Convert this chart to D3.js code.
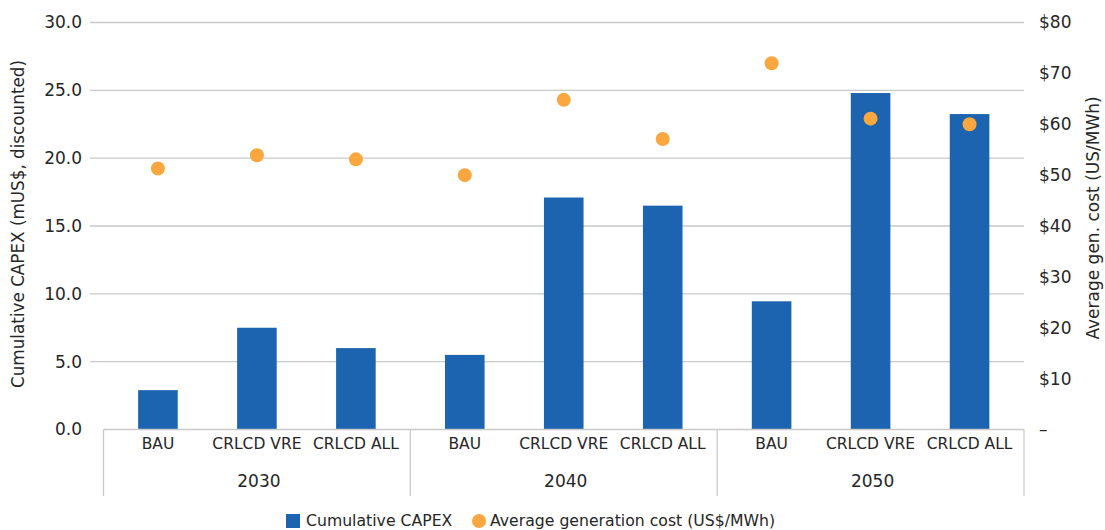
<!DOCTYPE html>
<html>
<head>
<meta charset="utf-8">
<script src="https://cdn.jsdelivr.net/npm/d3@7"></script>
<style>
  html, body { margin: 0; padding: 0; background: #fff; }
  svg { display: block; font-family: "DejaVu Sans", sans-serif; }
</style>
</head>
<body>
<svg id="chart" width="1105" height="530"></svg>
<script>
// ---- data ----
const years = ["2030", "2040", "2050"];
const scenarios = ["BAU", "CRLCD VRE", "CRLCD ALL"];
// Cumulative CAPEX (mUS$, discounted), per year, per scenario
const capex2030 = [2.9, 7.5, 6.0];
const capex2040 = [5.5, 17.1, 16.5];
const capex2050 = [9.45, 24.8, 23.25];
// Average generation cost (US$/MWh)
const cost2030 = [51.3, 53.9, 53.1];
const cost2040 = [50.0, 64.8, 57.1];
const cost2050 = [72.0, 61.1, 60.0];
const leftTicks = [0, 5, 10, 15, 20, 25, 30];
const rightTicks = [0, 10, 20, 30, 40, 50, 60, 70, 80];
const seriesNames = ["Cumulative CAPEX", "Average generation cost (US$/MWh)"];
const leftTitle = "Cumulative CAPEX (mUS$, discounted)";
const rightTitle = "Average gen. cost (US/MWh)";

const capexByYear = [capex2030, capex2040, capex2050];
const costByYear = [cost2030, cost2040, cost2050];
const rows = [];
years.forEach((y, i) => scenarios.forEach((s, j) => rows.push({
  year: y, scen: s, capex: capexByYear[i][j], cost: costByYear[i][j]
})));

// ---- layout ----
const L = 103.5, R = 1024, T = 22.5, B = 429.5;
const blue = "#1c64af", orange = "#f9a73e", grid = "#c9c9c9", txt = "#262626";
const FONT = "DejaVu Sans, sans-serif";
const svg = d3.select("#chart");

const x0 = d3.scaleBand().domain(years).range([L, R]).padding(0);
const x1 = d3.scaleBand().domain(scenarios).range([0, x0.bandwidth()])
  .paddingInner(0.6).paddingOuter(0.35);
const yL = d3.scaleLinear().domain([0, 30]).range([B, T]);
const yR = d3.scaleLinear().domain([0, 80]).range([B, T]);

// gridlines
svg.append("g").selectAll("line").data(leftTicks.filter(d => d > 0)).join("line")
  .attr("x1", 90).attr("x2", R).attr("y1", d => yL(d)).attr("y2", d => yL(d))
  .attr("stroke", grid).attr("stroke-width", 1.3);

// left axis
const axL = svg.append("g").attr("transform", `translate(${L},0)`)
  .call(d3.axisLeft(yL).tickValues(leftTicks).tickFormat(d3.format(".1f")).tickSize(0).tickPadding(21.5));
axL.select(".domain").remove();
axL.selectAll("text").attr("font-size", 17).attr("fill", txt).attr("font-family", FONT);

// right axis
const axR = svg.append("g").attr("transform", `translate(${R},0)`)
  .call(d3.axisRight(yR).tickValues(rightTicks).tickFormat(d => d === 0 ? "–" : "$" + d).tickSize(0).tickPadding(15));
axR.select(".domain").remove();
axR.selectAll("text").attr("font-size", 17).attr("fill", txt).attr("font-family", FONT);

// bars
svg.append("g").selectAll("rect").data(rows).join("rect")
  .attr("x", d => x0(d.year) + x1(d.scen))
  .attr("width", x1.bandwidth())
  .attr("y", d => yL(d.capex))
  .attr("height", d => B - yL(d.capex))
  .attr("fill", blue);

// dots
svg.append("g").selectAll("circle").data(rows).join("circle")
  .attr("cx", d => x0(d.year) + x1(d.scen) + x1.bandwidth() / 2)
  .attr("cy", d => yR(d.cost))
  .attr("r", 7)
  .attr("fill", orange);

// category axis box
const boxBottom = 496;
const xa = svg.append("g").attr("stroke", grid).attr("stroke-width", 1.3);
xa.append("line").attr("x1", L).attr("x2", R).attr("y1", B).attr("y2", B);
const seps = [L].concat(years.map(y => x0(y) + x0.bandwidth()));
xa.selectAll(".sep").data(seps).join("line").attr("class", "sep")
  .attr("x1", d => d).attr("x2", d => d).attr("y1", B).attr("y2", boxBottom);

svg.append("g").selectAll("text").data(rows).join("text")
  .attr("x", d => x0(d.year) + x1(d.scen) + x1.bandwidth() / 2)
  .attr("y", 449).attr("text-anchor", "middle")
  .attr("font-size", 15.5).attr("fill", txt).text(d => d.scen);

svg.append("g").selectAll("text").data(years).join("text")
  .attr("x", d => x0(d) + x0.bandwidth() / 2 + 2)
  .attr("y", 487).attr("text-anchor", "middle")
  .attr("font-size", 17).attr("fill", txt).text(d => d);

// axis titles
svg.append("text").attr("transform", `translate(24,224) rotate(-90)`)
  .attr("text-anchor", "middle").attr("font-size", 16.8).attr("fill", txt).text(leftTitle);
svg.append("text").attr("transform", `translate(1099,218) rotate(-90)`)
  .attr("text-anchor", "middle").attr("font-size", 17).attr("fill", txt).text(rightTitle);

// legend
const lg = svg.append("g");
lg.append("rect").attr("x", 286).attr("y", 514).attr("width", 14).attr("height", 14).attr("fill", blue);
lg.append("text").attr("x", 306).attr("y", 526).attr("font-size", 15.7).attr("fill", txt).text(seriesNames[0]);
lg.append("circle").attr("cx", 479).attr("cy", 521).attr("r", 7).attr("fill", orange);
lg.append("text").attr("x", 490).attr("y", 526).attr("font-size", 15.7).attr("fill", txt).text(seriesNames[1]);
</script>
</body>
</html>
